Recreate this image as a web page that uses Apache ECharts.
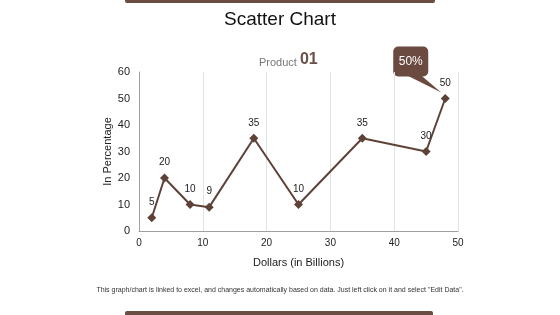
<!DOCTYPE html>
<html>
<head>
<meta charset="utf-8">
<script src="https://cdn.jsdelivr.net/npm/echarts@6/dist/echarts.min.js"></script>
<style>
html,body{margin:0;padding:0;background:#fff;}
#c{width:560px;height:315px;}
</style>
</head>
<body>
<div id="c"></div>
<script>
var xValues = [2, 4, 8, 11, 18, 25, 35, 45, 48];
var yValues = [5, 20, 10, 9, 35, 10, 35, 30, 50];
var xTicks = [0, 10, 20, 30, 40, 50];
var yTicks = [0, 10, 20, 30, 40, 50, 60];
var calloutText = '50%';

var brown = '#5e4238';
var data = xValues.map(function (x, i) { return [x, yValues[i]]; });

var chart = echarts.init(document.getElementById('c'));
var option = {
  animation: false,
  backgroundColor: '#fff',
  title: [
    { text: 'Scatter Chart', left: 'center', top: 5,
      textStyle: { fontFamily: 'Liberation Sans, Arial', fontSize: 19, fontWeight: 'normal', color: '#111' } },
    { text: '{a|Product }{b|01}', left: 254, top: 47,
      textStyle: { fontWeight: 'normal', rich: {
        a: { fontFamily: 'Liberation Sans, Arial', fontSize: 11, fontWeight: 'normal', color: '#777', verticalAlign: 'bottom' },
        b: { fontFamily: 'Liberation Sans, Arial', fontSize: 16, fontWeight: 'bold', color: '#6a5048', verticalAlign: 'bottom' }
      } } }
  ],
  grid: { left: 139, right: 102, top: 72, bottom: 84 },
  xAxis: {
    type: 'value', min: 0, max: 50, interval: 10,
    name: 'Dollars (in Billions)', nameLocation: 'middle', nameGap: 26,
    nameTextStyle: { fontFamily: 'Liberation Sans, Arial', fontSize: 11, color: '#222' },
    axisLine: { show: true, lineStyle: { color: '#a0a0a0' } },
    axisTick: { show: false },
    axisLabel: { fontFamily: 'Liberation Sans, Arial', fontSize: 10, color: '#222', margin: 7,
      formatter: function (v) { return xTicks.indexOf(v) >= 0 ? String(v) : ''; } },
    splitLine: { show: true, lineStyle: { color: '#e2e2e2' } }
  },
  yAxis: {
    type: 'value', min: 0, max: 60, interval: 10,
    name: 'In Percentage', nameLocation: 'middle', nameGap: 26, nameRotate: 90,
    nameMoveOverlap: false,
    nameTextStyle: { fontFamily: 'Liberation Sans, Arial', fontSize: 11, color: '#222' },
    axisLine: { show: true, lineStyle: { color: '#a0a0a0' } },
    axisTick: { show: false },
    axisLabel: { fontFamily: 'Liberation Sans, Arial', fontSize: 11, color: '#222', margin: 9,
      formatter: function (v) { return yTicks.indexOf(v) >= 0 ? String(v) : ''; } },
    splitLine: { show: false }
  },
  series: [{
    type: 'line',
    data: data,
    symbol: 'diamond',
    symbolSize: 9,
    itemStyle: { color: brown },
    lineStyle: { color: brown, width: 2 },
    label: { show: true, position: 'top', distance: 6,
      fontFamily: 'Liberation Sans, Arial', fontSize: 10, color: '#222',
      formatter: function (p) { return p.value[1]; } }
  }],
  graphic: [
    { type: 'rect', left: 125, top: 0, shape: { width: 310, height: 3, r: [0, 0, 2, 2] }, style: { fill: '#6b4e43' } },
    { type: 'rect', left: 125, top: 311, shape: { width: 308, height: 4, r: [2, 2, 0, 0] }, style: { fill: '#6b4e43' } },
    { type: 'text', left: 'center', top: 287,
      style: { text: 'This graph/chart is linked to excel, and changes automatically based on data. Just left click on it and select "Edit Data".',
        font: '7px "Liberation Sans", Arial', fill: '#333' } }
  ]
};
chart.setOption(option);

var last = data[data.length - 1];
var p = chart.convertToPixel({ gridIndex: 0 }, last);
var bx = p[0] - 52, by = p[1] - 52, bw = 35, bh = 30;
chart.setOption({
  graphic: option.graphic.concat([
    { type: 'polygon', shape: { points: [[bx + 14, by + bh - 1], [bx + 28, by + bh - 1], [p[0] - 4, p[1] - 6]] }, style: { fill: '#6b4a3f' } },
    { type: 'rect', shape: { x: bx, y: by, width: bw, height: bh, r: 5 }, style: { fill: '#6b4a3f' } },
    { type: 'text', x: bx + bw / 2, y: by + bh / 2,
      style: { text: calloutText, fill: '#fff', font: '12px "Liberation Sans", Arial', align: 'center', verticalAlign: 'middle' } }
  ])
});
</script>
</body>
</html>
